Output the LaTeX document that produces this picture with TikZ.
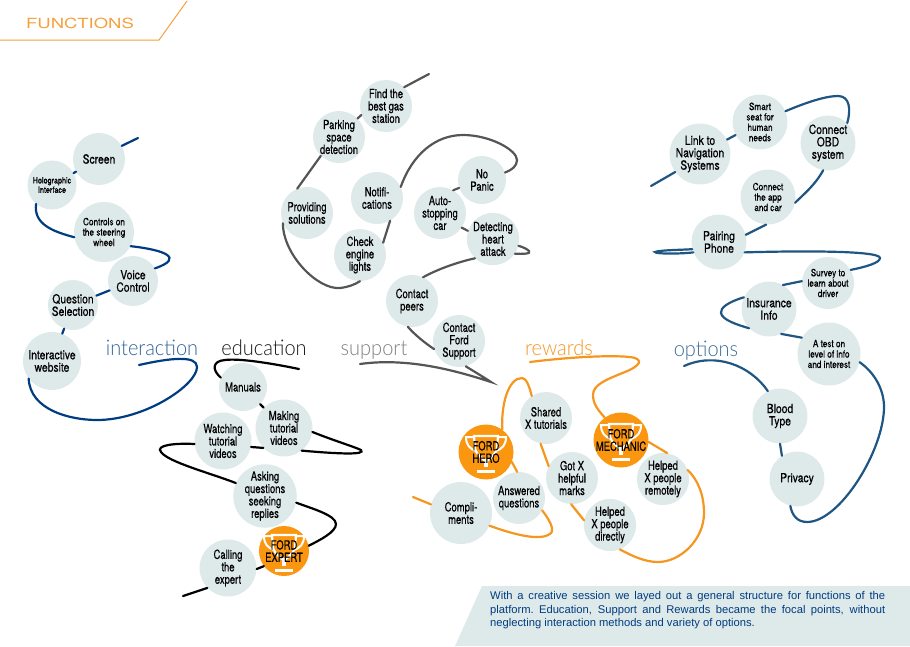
\documentclass[tikz,border=0pt]{standalone}
\usepackage{fontspec}
\setmainfont{Liberation Sans}
\newfontfamily\itemface[FakeStretch=0.82,FakeBold=0.5]{TeX Gyre Heros}
\newfontfamily\slimface[FakeStretch=0.75,FakeBold=0.5]{TeX Gyre Heros}
\newfontfamily\headface[FakeStretch=1.32]{TeX Gyre Heros}
\newfontfamily\topicface[FakeStretch=0.93]{Lato Light}
\newcommand{\itembig}{\itemface\fontsize{12.6}{12.4}\selectfont}
\newcommand{\itemslim}{\slimface\fontsize{12.6}{12.4}\selectfont}
\newcommand{\itemmid}{\itemface\fontsize{10}{10.4}\selectfont}
\newcommand{\itemtiny}{\itemface\fontsize{8.8}{9.4}\selectfont}
\usetikzlibrary{calc}

\definecolor{bubble}{RGB}{222,233,233}
\definecolor{interblue}{RGB}{0,60,130}
\definecolor{optblue}{RGB}{30,85,130}
\definecolor{supgray}{RGB}{85,85,85}
\definecolor{reworange}{RGB}{245,150,30}
\definecolor{medal}{RGB}{250,150,15}
\definecolor{headorange}{RGB}{245,160,60}

\tikzset{
    item/.style={circle,fill=bubble,inner sep=0,minimum size=#1,align=center,font=\itembig},
    medalitem/.style={circle,fill=medal,inner sep=0,minimum size=#1,align=center,font=\itembig},
    topic/.style={anchor=base,font=\topicface\fontsize{21.5}{24}\selectfont},
    curve/.style={line width=2.2pt,line cap=round}
}

\begin{document}
\begin{tikzpicture}[x=1pt,y=-1pt]
    \useasboundingbox (0,0) rectangle (910,646);

    % Header
    \coordinate (headL) at (0,40);
    \coordinate (headK) at (159,40);
    \coordinate (headR) at (187,1);
    \draw[headorange,line width=1pt] (headL) -- (headK) -- (headR);
    \node[text=headorange,anchor=base west,inner sep=0,font=\headface\fontsize{14}{14}\selectfont] (headtitle) at (26,28) {FUNCTIONS};

    % Topics
    \node[topic,text=interblue!80] (tinter) at (152,355) {interaction};
    \node[topic,text=black!90] (tedu) at (264,355) {education};
    \node[topic,text=gray] (tsup) at (374,355) {support};
    \node[topic,text=reworange] (trew) at (559,355) {rewards};
    \node[topic,text=optblue!85] (topt) at (706,356) {options};

    % Interaction
    \foreach \n/\x/\y/\s/\t in {screen/99/159/52/Screen, voice/133/281/50/Voice\\Control, question/73/305/50/Question\\Selection, interactive/52/361/58/Interactive\\website} {
        \node[item=\s] (\n) at (\x,\y) {\t};
    }
    \node[item=49,font=\itemtiny] (holo) at (52,185) {Holographic\\Interface};
    \node[item=60,font=\itemmid] (controls) at (104,232) {Controls on\\the steering\\wheel};

    \coordinate (interA) at (138,138);
    \coordinate (interB) at (139,365);
    \begin{scope}[interblue,curve]
        \draw (interA) -- (screen.30);
        \draw (holo.230) .. controls (33,225) and (55,232) .. (controls.190);
        \draw (controls.332) .. controls (165,250) and (185,258) .. (voice.30);
        \draw (interactive.217) .. controls (30,410) and (70,420) .. (97,420) .. controls (145,420) and (197,385) .. (197,367) .. controls (197,355) and (170,358) .. (interB);
        \foreach \u/\v in {screen/holo, voice/question, question/interactive} {
            \draw (\u) -- (\v);
        }
    \end{scope}

    % Education
    \foreach \n/\x/\y/\s/\t in {manuals/243/387/48/Manuals, making/284/428/57/Making\\tutorial\\videos, watching/223/441/57/Watching\\tutorial\\videos, asking/265/496/57/Asking\\questions\\seeking\\replies, calling/228/568/57/Calling\\the\\expert} {
        \node[item=\s,font=\itemslim] (\n) at (\x,\y) {\t};
    }
    \node[medalitem=50] (expert) at (284,551) {};

    \coordinate (eduA) at (299,369);
    \coordinate (eduB) at (183,596);
    \begin{scope}[black,curve]
        \draw (eduA) .. controls (275,364) and (240,358) .. (225,360) .. controls (212,361) and (212,370) .. (manuals.157);
        \draw (manuals) -- (making);
        \draw (making.352) .. controls (335,441) and (355,447) .. (361,450) .. controls (366,455) and (340,454) .. (making.308);
        \draw (making.224) -- (watching.348);
        \draw (watching.186) .. controls (175,443) and (155,445) .. (161,452) .. controls (168,462) and (210,473) .. (asking.156);
        \draw (asking.348) .. controls (310,508) and (336,515) .. (336,524) .. controls (336,532) and (320,540) .. (expert.12);
        \draw (expert.217) -- (calling.358);
        \draw (calling.224) -- (eduB);
    \end{scope}

    % Support
    \foreach \n/\x/\y/\t in {find/386/106/Find the\\best gas\\station, parking/339/137/Parking\\space\\detection, providing/307/213/Providing\\solutions, notifi/377/198/Notifi-\\cations, check/360/255/Check\\engine\\lights, auto/440/213/Auto-\\stopping\\car, detect/493/239/Detecting\\heart\\attack, peers/412/301/Contact\\peers, fordsup/459/341/Contact\\Ford\\Support} {
        \node[item=52,font=\itemslim] (\n) at (\x,\y) {\t};
    }
    \node[item=48,font=\itemslim] (panic) at (482,180) {No\\Panic};

    \coordinate (supA) at (429,74);
    \coordinate (supB) at (360,364);
    \begin{scope}[supgray,curve]
        \draw (find.46) -- (supA);
        \draw (find.200) -- (parking.45);
        \draw (parking.226) -- (providing.112);
        \draw (providing.203) .. controls (283,255) and (318,290) .. (340,288) .. controls (348,287) and (354,285) .. (check.270);
        \draw (check.28) -- (notifi.300);
        \draw (notifi.25) .. controls (412,155) and (435,135) .. (463,135) .. controls (490,135) and (517,150) .. (517,160) .. controls (517,166) and (512,170) .. (panic.18);
        \draw (panic.199) -- (auto.60);
        \draw (auto.326) -- (detect.162);
        \draw (detect.326) .. controls (522,254) and (532,254) .. (529,251) .. controls (527,249) and (523,247) .. (detect.345);
        \draw (detect.227) .. controls (458,262) and (438,269) .. (peers.65);
        \draw (peers.261) .. controls (415,335) and (425,343) .. (fordsup.198);
        \draw (fordsup.285) .. controls (475,372) and (485,378) .. (491,382) .. controls (460,372) and (410,357) .. (supB);
    \end{scope}

    % Rewards
    \foreach \n/\x/\y/\t in {shared/546/418/Shared\\X tutorials, gotx/572/478/Got X\\helpful\\marks, remote/663/479/Helped\\X people\\remotely, direct/610/525/Helped\\X people\\directly, answered/519/498/Answered\\questions} {
        \node[item=52,font=\itemslim] (\n) at (\x,\y) {\t};
    }
    \node[item=62,font=\itemslim] (compl) at (461,513) {Compli-\\ments};
    \node[medalitem=55] (hero) at (486,452) {};
    \node[medalitem=55] (mechanic) at (621,440) {};

    \coordinate (rewA) at (530,362);
    \coordinate (rewB) at (413,497);
    \begin{scope}[reworange,curve]
        \draw (rewA) .. controls (570,357) and (610,355) .. (630,357) .. controls (645,359) and (640,366) .. (625,372) .. controls (605,380) and (593,385) .. (593,395) .. controls (593,404) and (598,410) .. (mechanic.126);
        \draw (mechanic.356) -- (remote.81);
        \draw (remote.20) .. controls (698,480) and (704,495) .. (704,513) .. controls (704,540) and (680,562) .. (658,562) .. controls (645,562) and (632,556) .. (direct.292);
        \draw (direct.170) -- (gotx.268);
        \draw (gotx.153) -- (shared.258);
        \draw (shared.123) .. controls (529,385) and (526,378) .. (522,378) .. controls (508,378) and (501,405) .. (hero.54);
        \draw (hero.339) -- (answered.94);
        \draw (answered.332) .. controls (548,518) and (556,530) .. (550,534) .. controls (540,541) and (515,535) .. (compl.336);
        \draw (compl.164) -- (rewB);
    \end{scope}

    % Options
    \foreach \n/\x/\y/\t in {link/700/154/Link to\\Navigation\\Systems, obd/828/143/Connect\\OBD\\system, pairing/719/242/Pairing\\Phone, insurance/769/309/Insurance\\Info, blood/780/416/Blood\\Type, privacy/797/479/Privacy} {
        \node[item=55] (\n) at (\x,\y) {\t};
    }
    \node[item=55,font=\itemmid] (smart) at (760,122) {Smart\\seat for\\human\\needs};
    \node[item=55,font=\itemmid] (app) at (768,197) {Connect\\the app\\and car};
    \node[item=52,font=\itemmid] (survey) at (828,283) {Survey to\\learn about\\driver};
    \node[item=63,font=\itemmid] (testinfo) at (829,354) {A test on\\level of info\\and interest};

    \coordinate (optA) at (651,186);
    \coordinate (optB) at (684,366);
    \begin{scope}[optblue,curve]
        \draw (optA) -- (link.216);
        \draw (link) -- (smart);
        \draw (smart.23) .. controls (805,103) and (825,96) .. (838,96) .. controls (850,96) and (851,110) .. (obd.46);
        \draw (obd.260) .. controls (815,185) and (805,193) .. (app.348);
        \draw (app.266) -- (pairing.15);
        \draw (pairing.195) .. controls (680,250) and (660,250) .. (655,252) .. controls (655,254) and (680,254) .. (pairing.202);
        \draw (pairing.338) .. controls (790,251) and (880,250) .. (880,258) .. controls (880,263) and (865,267) .. (survey.30);
        \draw (survey.176) -- (insurance.60);
        \draw (insurance.155) .. controls (728,302) and (720,308) .. (721,313) .. controls (722,320) and (738,325) .. (insurance.224);
        \draw (insurance.296) -- (testinfo.149);
        \draw (testinfo.345) .. controls (875,373) and (884,390) .. (884,407) .. controls (884,450) and (840,522) .. (807,522) .. controls (797,522) and (792,515) .. (privacy.256);
        \draw (privacy.123) -- (blood.270);
        \draw (blood.116) .. controls (750,365) and (715,352) .. (optB);
    \end{scope}

    % Trophies
    \foreach \m/\t in {expert/{FORD\\EXPERT}, hero/{FORD\\HERO}, mechanic/{FORD\\MECHANIC}} {
        \begin{scope}[shift={(\m)},white]
            \draw[line width=2.2pt] (-12,-16) -- (12,-16) -- (11,-3) .. controls (9,3) and (4,6) .. (2,8) -- (-2,8) .. controls (-4,6) and (-9,3) .. (-11,-3) -- cycle;
            \fill (-2,8) rectangle (2,15);
            \draw[line width=2pt] (-12,-15) -- (-20,-15) .. controls (-20,-7) and (-16,-3) .. (-10,-1);
            \draw[line width=2pt] (12,-15) -- (20,-15) .. controls (20,-7) and (16,-3) .. (10,-1);
            \fill (-9,17.5) rectangle (9,20.5);
        \end{scope}
        \node[align=center,font=\itemslim,inner sep=0] at (\m) {\t};
    }

    % Note
    \fill[bubble] (482,586) -- (910,586) -- (910,646) -- (455,646) -- cycle;
    \node[anchor=north west,inner sep=0,text width=395pt,align=justify,text=interblue,font=\fontsize{11.2}{13.3}\selectfont] (note) at (490,591.5) {With a creative session we layed out a general structure for functions of the \mbox{platform.} Education, Support and Rewards became the focal points, without \mbox{neglecting} interaction methods and variety of options.};
\end{tikzpicture}
\end{document}
